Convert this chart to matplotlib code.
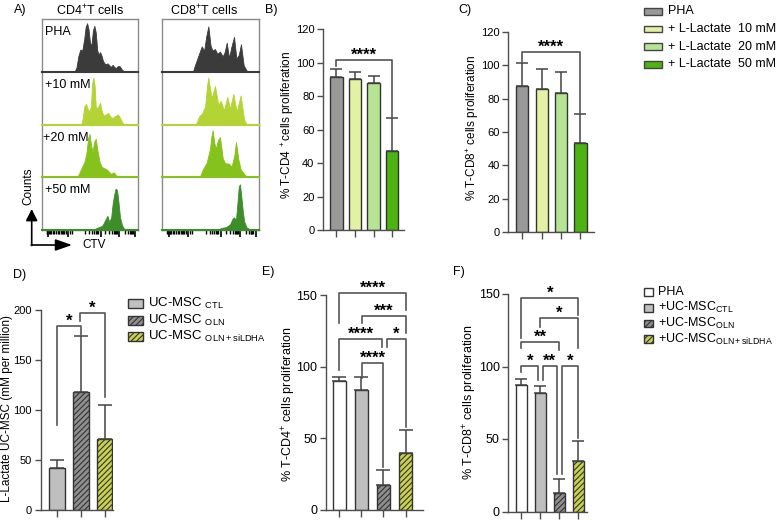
import matplotlib
matplotlib.use('Agg')
import matplotlib.pyplot as plt
from matplotlib.patches import Rectangle

plt.rcParams['font.family'] = ['Liberation Sans', 'DejaVu Sans']
plt.rcParams['mathtext.fontset'] = 'custom'
plt.rcParams['mathtext.rm'] = 'Liberation Sans'
plt.rcParams['mathtext.it'] = 'Liberation Sans:italic'
plt.rcParams['mathtext.bf'] = 'Liberation Sans:bold'
plt.rcParams['hatch.linewidth'] = 0.8

# ---------------- data ----------------
# Panel A: flow histograms (x = fraction of CTV axis, y = fraction of row height)
hist_rows = ['PHA', '+10 mM', '+20 mM', '+50 mM']
hist_colors = ['#3b3b3b', '#b4d334', '#86c21c', '#3d8d2a']

cd4_pha_x = [0.34, 0.36, 0.38, 0.40, 0.42, 0.44, 0.455, 0.47, 0.485, 0.50, 0.515, 0.53, 0.545, 0.56, 0.575,
             0.59, 0.605, 0.62, 0.635, 0.65, 0.665, 0.68, 0.695, 0.715, 0.735, 0.75, 0.77, 0.79, 0.81, 0.83, 0.86]
cd4_pha_y = [0, 0.08, 0.30, 0.42, 0.40, 0.62, 0.85, 0.92, 0.80, 0.55, 0.50, 0.78, 0.87, 0.74, 0.40,
             0.33, 0.37, 0.30, 0.20, 0.16, 0.14, 0.16, 0.13, 0.09, 0.13, 0.09, 0.07, 0.11, 0.10, 0.04, 0]
cd4_10_x = [0.41, 0.425, 0.44, 0.46, 0.475, 0.49, 0.51, 0.522, 0.535, 0.548, 0.56, 0.58, 0.605, 0.62, 0.64,
            0.665, 0.69, 0.71, 0.73, 0.76, 0.79, 0.81, 0.83, 0.85]
cd4_10_y = [0, 0.12, 0.34, 0.39, 0.30, 0.24, 0.34, 0.78, 0.89, 0.74, 0.32, 0.32, 0.41, 0.26, 0.17,
            0.19, 0.22, 0.15, 0.12, 0.16, 0.19, 0.13, 0.05, 0]
cd4_20_x = [0.37, 0.39, 0.42, 0.445, 0.465, 0.48, 0.495, 0.51, 0.525, 0.545, 0.56, 0.575, 0.60, 0.62, 0.64,
            0.66, 0.68, 0.70, 0.72, 0.745, 0.77, 0.80]
cd4_20_y = [0, 0.08, 0.20, 0.30, 0.48, 0.74, 0.82, 0.62, 0.48, 0.68, 0.73, 0.52, 0.28, 0.20, 0.17,
            0.16, 0.13, 0.09, 0.06, 0.09, 0.03, 0]
cd4_50_x = [0.54, 0.57, 0.60, 0.63, 0.655, 0.68, 0.70, 0.72, 0.735, 0.75, 0.765, 0.78, 0.795, 0.81, 0.83, 0.85, 0.87]
cd4_50_y = [0, 0.03, 0.05, 0.08, 0.17, 0.26, 0.14, 0.24, 0.50, 0.66, 0.78, 0.75, 0.52, 0.24, 0.09, 0.02, 0]

cd8_pha_x = [0.32, 0.34, 0.375, 0.41, 0.435, 0.455, 0.478, 0.50, 0.52, 0.545, 0.57, 0.597, 0.625, 0.645,
             0.666, 0.69, 0.715, 0.741, 0.765, 0.79, 0.812, 0.84, 0.877]
cd8_pha_y = [0, 0.12, 0.30, 0.48, 0.40, 0.66, 0.86, 0.50, 0.40, 0.43, 0.34, 0.38, 0.29, 0.37,
             0.55, 0.26, 0.48, 0.66, 0.25, 0.32, 0.52, 0.12, 0]
cd8_10_x = [0.35, 0.385, 0.41, 0.445, 0.465, 0.478, 0.49, 0.512, 0.546, 0.58, 0.604, 0.638, 0.672, 0.70,
            0.734, 0.768, 0.809, 0.843, 0.87]
cd8_10_y = [0, 0.16, 0.20, 0.34, 0.74, 0.89, 0.74, 0.50, 0.73, 0.37, 0.45, 0.27, 0.52, 0.30,
            0.58, 0.24, 0.55, 0.10, 0]
cd8_20_x = [0.39, 0.42, 0.46, 0.495, 0.51, 0.522, 0.54, 0.556, 0.575, 0.597, 0.625, 0.65, 0.683, 0.717,
            0.745, 0.761, 0.785, 0.81, 0.853, 0.877]
cd8_20_y = [0, 0.14, 0.27, 0.54, 0.78, 0.89, 0.64, 0.54, 0.70, 0.76, 0.36, 0.26, 0.26, 0.20,
            0.42, 0.665, 0.34, 0.14, 0.04, 0]
cd8_50_x = [0.58, 0.61, 0.66, 0.70, 0.727, 0.741, 0.761, 0.775, 0.79, 0.802, 0.815, 0.83, 0.845, 0.87, 0.905]
cd8_50_y = [0, 0.03, 0.045, 0.10, 0.21, 0.23, 0.18, 0.48, 0.82, 0.86, 0.64, 0.36, 0.15, 0.04, 0]

ctv_minor = [0.05, 0.06, 0.08, 0.09, 0.10, 0.12, 0.13, 0.15, 0.17, 0.18, 0.20, 0.21, 0.22, 0.23, 0.25,
             0.29, 0.31, 0.45, 0.49, 0.52, 0.54, 0.56, 0.57, 0.58, 0.66, 0.70, 0.73, 0.75, 0.76,
             0.77, 0.78, 0.86, 0.89, 0.91, 0.92, 0.93, 0.94]
ctv_major = [0.07, 0.27, 0.61, 0.80, 0.97]

# Panels B, C
lactate_groups = ['PHA', '+ L-Lactate  10 mM', '+ L-Lactate  20 mM', '+ L-Lactate  50 mM']
lactate_colors = ['#999999', '#e3f1a4', '#b6e495', '#4db313']
cd4_lactate_mean = [91.7, 90.1, 87.7, 47.4]
cd4_lactate_sd = [4.4, 4.2, 4.6, 19.4]
cd8_lactate_mean = [87.5, 85.5, 83.5, 53.2]
cd8_lactate_sd = [13.5, 12.0, 12.5, 17.8]

# Panel D
msc_subs = ['CTL', 'OLN', 'OLN+siLDHA']
msc_colors = ['#bfbfbf', '#8f8f8f', '#c9d24e']
msc_hatch = ['', '//////', '//////']
msc_lactate_mean = [41.7, 117.7, 71.0]
msc_lactate_sd = [8.3, 56.3, 34.0]

# Panels E, F
cocult_groups = ['PHA', 'CTL', 'OLN', 'OLN+siLDHA']
cocult_colors = ['#ffffff', '#bfbfbf', '#8f8f8f', '#c9d24e']
cocult_hatch = ['', '', '//////', '//////']
cd4_cocult_mean = [90.0, 84.0, 17.5, 39.6]
cd4_cocult_sd = [3.0, 9.0, 10.5, 16.0]
cd8_cocult_mean = [87.2, 82.0, 12.5, 35.0]
cd8_cocult_sd = [4.0, 4.6, 9.7, 13.8]

# Significance brackets: (x1, x2, y, left leg end, right leg end, label)
sig_b = [(0, 3, 101.7, 98, 67.5, '****')]
sig_c = [(0, 3, 107.6, 102, 71.5, '****')]
sig_d = [(0, 1.0, 184.3, 85, 175, '*'), (0.96, 2.0, 196.7, 189, 113.3, '*')]
sig_e = [(0, 3, 151.2, 130.5, 139.6, '****'), (1.01, 3, 135.4, 130.5, 123.7, '***'),
         (0, 1.95, 119.1, 97.7, 114, '****'), (2.14, 3, 119.1, 114, 58, '*'),
         (1.01, 1.99, 102.4, 92, 30, '****')]
sig_f = [(0, 3, 147, 119.4, 135.5, '*'), (0.99, 3, 133.2, 127.4, 112.5, '*'),
         (0, 2.0, 117.1, 112.5, 111.4, '**'), (0, 0.9, 100.3, 96.4, 90.7, '*'),
         (1.13, 1.87, 100.3, 90.7, 26, '**'), (2.13, 3.0, 100.3, 26, 51, '*')]

# ---------------- figure ----------------
W, H = 784, 520
fig = plt.figure(figsize=(7.84, 5.2), dpi=100)
AX_C = '#4d4d4d'


def px_axes(x0, y0, x1, y1, **kw):
    return fig.add_axes([x0 / W, 1 - y1 / H, (x1 - x0) / W, (y1 - y0) / H], **kw)


# ---- Panel A ----
rows_y = [19, 71.7, 124.5, 177, 229.5]
cols = [(41.7, 138.3, [(cd4_pha_x, cd4_pha_y), (cd4_10_x, cd4_10_y), (cd4_20_x, cd4_20_y), (cd4_50_x, cd4_50_y)]),
        (161.7, 259.3, [(cd8_pha_x, cd8_pha_y), (cd8_10_x, cd8_10_y), (cd8_20_x, cd8_20_y), (cd8_50_x, cd8_50_y)])]
for ci, (x0, x1, hists) in enumerate(cols):
    box = px_axes(x0, rows_y[0], x1, rows_y[-1])
    box.set_xlim(0, 1)
    box.set_ylim(0, 1)
    for s in box.spines.values():
        s.set_color('#8a8a8a')
        s.set_linewidth(1.0)
    box.set_yticks([])
    box.set_xticks(ctv_major)
    box.set_xticks(ctv_minor, minor=True)
    box.tick_params(axis='x', which='major', length=5, width=1.2, color='black', labelbottom=False)
    box.tick_params(axis='x', which='minor', length=3, width=1.0, color='black')
    for r, (hx, hy) in enumerate(hists):
        ax = px_axes(x0, rows_y[r], x1, rows_y[r + 1])
        ax.set_xlim(0, 1)
        ax.set_ylim(0, 1)
        ax.axis('off')
        ax.fill_between(hx, hy, 0, color=hist_colors[r], lw=0.6, edgecolor=hist_colors[r])
        ax.axhline(0, color=hist_colors[r], lw=1.5, clip_on=False)
        if ci == 0:
            ax.text(0.035 if r != 2 else 0.01, 0.75, hist_rows[r], transform=ax.transAxes,
                    fontsize=9, va='center', ha='left')

fig.text(90.5 / W, 1 - 11 / H, r'CD4$^{+}$T cells', ha='center', va='center', fontsize=9)
fig.text(204.5 / W, 1 - 11 / H, r'CD8$^{+}$T cells', ha='center', va='center', fontsize=9)


# ---- bar panels ----
def bar_panel(rect, means, sds, colors, hatches, ylim, yticks, xlim, width, sigs, tick_fs, err_cs):
    ax = px_axes(*rect)
    n = len(means)
    xs = list(range(n))
    ax.bar(xs, means, width=width, color=colors, edgecolor='#333333', linewidth=1.0,
           hatch=hatches, zorder=2)
    ax.errorbar(xs, means, yerr=[[0] * n, sds], fmt='none', ecolor='#444444', elinewidth=1.1,
                capsize=err_cs, capthick=1.1, zorder=3)
    ax.set_xlim(*xlim)
    ax.set_ylim(*ylim)
    ax.set_yticks(yticks)
    ax.set_xticks(xs)
    ax.set_xticklabels([])
    for s in ['top', 'right']:
        ax.spines[s].set_visible(False)
    for s in ['left', 'bottom']:
        ax.spines[s].set_color(AX_C)
        ax.spines[s].set_linewidth(1.0)
    ax.tick_params(axis='y', direction='out', length=4, width=1.0, color=AX_C, labelsize=tick_fs, pad=2.2)
    ax.tick_params(axis='x', direction='out', length=5, width=1.0, color=AX_C)
    ax.patch.set_alpha(0)
    for (x1, x2, y, l1, l2, lab) in sigs:
        ax.plot([x1, x1, x2, x2], [l1, y, y, l2], color='#555555', lw=1.2, clip_on=False, zorder=4)
        ax.annotate(lab, xy=((x1 + x2) / 2, y), xytext=(0, 0.3), textcoords='offset points',
                    ha='center', va='baseline', fontsize=12, fontweight='bold', annotation_clip=False)
    return ax


bar_panel((323, 29.3, 404, 230), cd4_lactate_mean, cd4_lactate_sd, lactate_colors, None,
          (0, 120), range(0, 121, 20), (-0.72, 3.64), 0.67, sig_b, 8, 4.5)
bar_panel((508.3, 31.7, 594, 232.3), cd8_lactate_mean, cd8_lactate_sd, lactate_colors, None,
          (0, 120), range(0, 121, 20), (-0.72, 3.70), 0.63, sig_c, 8, 4.5)
bar_panel((40.7, 310, 113.3, 510), msc_lactate_mean, msc_lactate_sd, msc_colors, msc_hatch,
          (0, 200), range(0, 201, 50), (-0.70, 2.37), 0.66, sig_d, 8, 5)
bar_panel((326, 295, 423.3, 510), cd4_cocult_mean, cd4_cocult_sd, cocult_colors, cocult_hatch,
          (0, 150), range(0, 151, 50), (-0.60, 3.80), 0.60, sig_e, 9, 5)
bar_panel((508.3, 294, 586.7, 511.5), cd8_cocult_mean, cd8_cocult_sd, cocult_colors, cocult_hatch,
          (0, 150), range(0, 151, 50), (-0.68, 3.44), 0.58, sig_f, 9, 4.5)

# y labels
ylabels = [(288, 125, r'% T-CD4$^{\ +}$cells proliferation', 8.5),
           (472.5, 128, r'% T-CD8$^{+}$ cells proliferation', 8.5),
           (7.5, 409, 'L-Lactate UC-MSC (mM per million)', 8.5),
           (289, 404, r'% T-CD4$^{+}$ cells proliferation', 9),
           (470, 402, r'% T-CD8$^{+}$ cells proliferation', 9)]
for (x, y, t, fs) in ylabels:
    fig.text(x / W, 1 - y / H, t, rotation=90, ha='center', va='center', fontsize=fs)

# ---- overlay for letters, legends, arrows ----
ov = fig.add_axes([0, 0, 1, 1], zorder=10)
ov.set_xlim(0, W)
ov.set_ylim(H, 0)
ov.axis('off')
ov.patch.set_alpha(0)

for (x, y, t) in [(14, 10, 'A)'), (265, 10, 'B)'), (458, 10, 'C)'), (13, 275, 'D)'), (262, 272, 'E)'),
                  (453, 272, 'F)')]:
    ov.text(x, y, t, fontsize=9, ha='left', va='center')

# Counts / CTV arrows
ov.annotate('', xy=(31.7, 209), xytext=(31.7, 245.5),
            arrowprops=dict(arrowstyle='-|>,head_length=0.7,head_width=0.35', color='black', lw=1.2,
                            shrinkA=0, shrinkB=0, mutation_scale=10))
ov.annotate('', xy=(72, 245), xytext=(31.2, 245),
            arrowprops=dict(arrowstyle='-|>,head_length=1.0,head_width=0.35', color='black', lw=1.2,
                            shrinkA=0, shrinkB=0, mutation_scale=10))
ov.text(82, 245.5, 'CTV', fontsize=8.5, ha='left', va='center')
ov.text(28, 186, 'Counts', fontsize=8.5, ha='center', va='center', rotation=90)

# legend B/C
for i, (lab, col) in enumerate(zip(lactate_groups, lactate_colors)):
    yc = 11.3 + i * 17.7
    ov.add_patch(Rectangle((644, yc - 3.3), 17.7, 6.6, facecolor=col, edgecolor='#444444', lw=1.0))
    ov.text(668, yc, lab, fontsize=9, ha='left', va='center')

# legend D
for i, (sub, col, h) in enumerate(zip(msc_subs, msc_colors, msc_hatch)):
    yc = 303.3 + i * 16.7
    ov.add_patch(Rectangle((127.7, yc - 4.5), 15.6, 9, facecolor=col, edgecolor='#333333', lw=1.0, hatch=h))
    ov.text(148, yc, r'UC-MSC $_{\mathregular{' + sub + '}}$', fontsize=9.5, ha='left', va='center')

# legend F
for i, (g, col, h) in enumerate(zip(cocult_groups, cocult_colors, cocult_hatch)):
    yc = 292.3 + i * 15.6
    ov.add_patch(Rectangle((644.3, yc - 3.9), 8.4, 7.8, facecolor=col, edgecolor='#333333', lw=1.0, hatch=h))
    lab = g if g == 'PHA' else r'+UC-MSC$_{\mathregular{' + g + '}}$'
    ov.text(658.3, yc, lab, fontsize=9, ha='left', va='center')

fig.savefig('out.png', dpi=100)
